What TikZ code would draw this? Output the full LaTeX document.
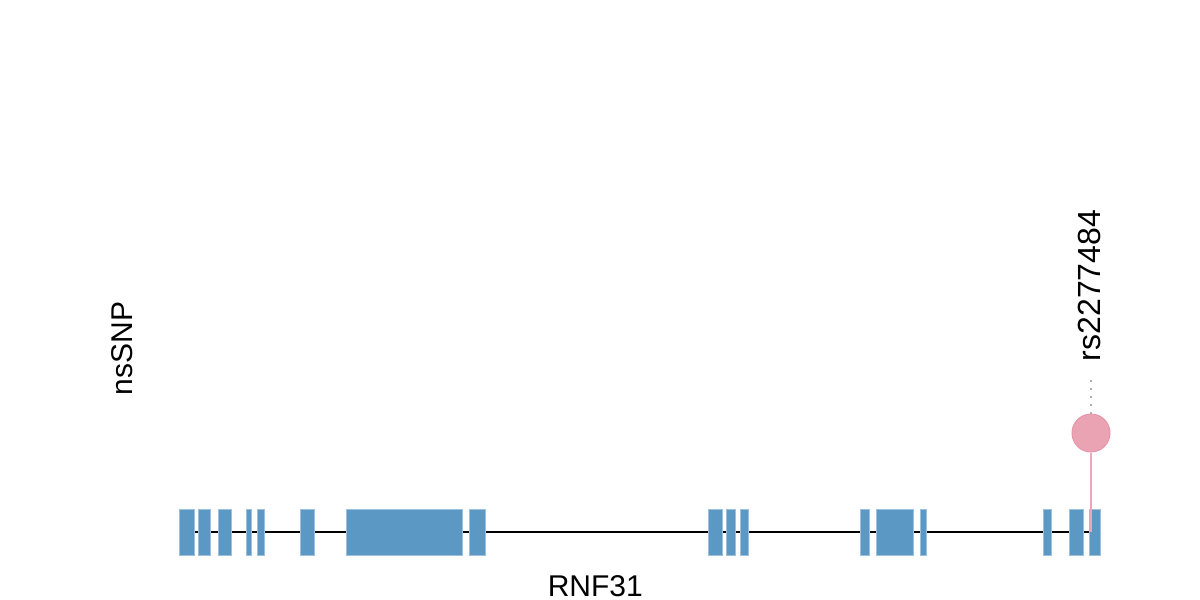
\documentclass[tikz,border=0pt]{standalone}
\usepackage{fontspec}
\setmainfont{Liberation Sans}
\definecolor{exonblue}{HTML}{5B98C4}
\definecolor{snppink}{HTML}{E9A3B3}
\definecolor{snpedge}{HTML}{E695AB}
\definecolor{stempink}{HTML}{ECA5BC}
\tikzset{%
  exon/.style={fill=exonblue, draw=exonblue!60!white, line width=0.8pt},
  geneline/.style={draw=black, line width=1.6pt},
  lolli/.style={circle, fill=snppink, draw=snpedge, line width=1pt,
                minimum size=38pt, inner sep=0pt},
  stem/.style={draw=stempink, line width=1.8pt},
  guide/.style={draw=black!30, line width=1.2pt, dash pattern=on 1.5pt off 6.5pt},
  lbl/.style={inner sep=0pt, font=\fontsize{30}{36}\selectfont},
}
\begin{document}
\begin{tikzpicture}[x=1pt,y=-1pt]
  \useasboundingbox (0,0) rectangle (1200,600);
  \coordinate (gstart) at (179,532);
  \coordinate (gend) at (1091,532);
  \draw[geneline] (gstart) -- (gend);
  \foreach \xa/\xb in {179/194, 198.7/210.7, 218.7/231.3, 246/251.7, 257/264,
      300/314.3, 346.7/462.7, 469.3/485.3, 708.7/722.7, 726.7/735.7, 740.3/748.3,
      860.3/869.7, 876.3/913, 920.7/926.3, 1043/1051.3, 1069.7/1083, 1089.7/1100.7}
    \fill[exon] (\xa,509) rectangle (\xb,555);
  \node[lolli] (snp) at (1091,433) {};
  \coordinate (dtop) at (1091,380);
  \draw[stem] (snp) -- (gend);
  \draw[guide] (dtop) -- (snp.north);
  \node[lbl, font=\fontsize{32}{38}\selectfont, rotate=90, anchor=base]
    (snpname) at (1100.5,285.5) {rs2277484};
  \node[lbl, rotate=90, anchor=base] (track) at (132,348.5) {nsSNP};
  \node[lbl, anchor=base] (gene) at (595.3,596) {RNF31};
\end{tikzpicture}
\end{document}
